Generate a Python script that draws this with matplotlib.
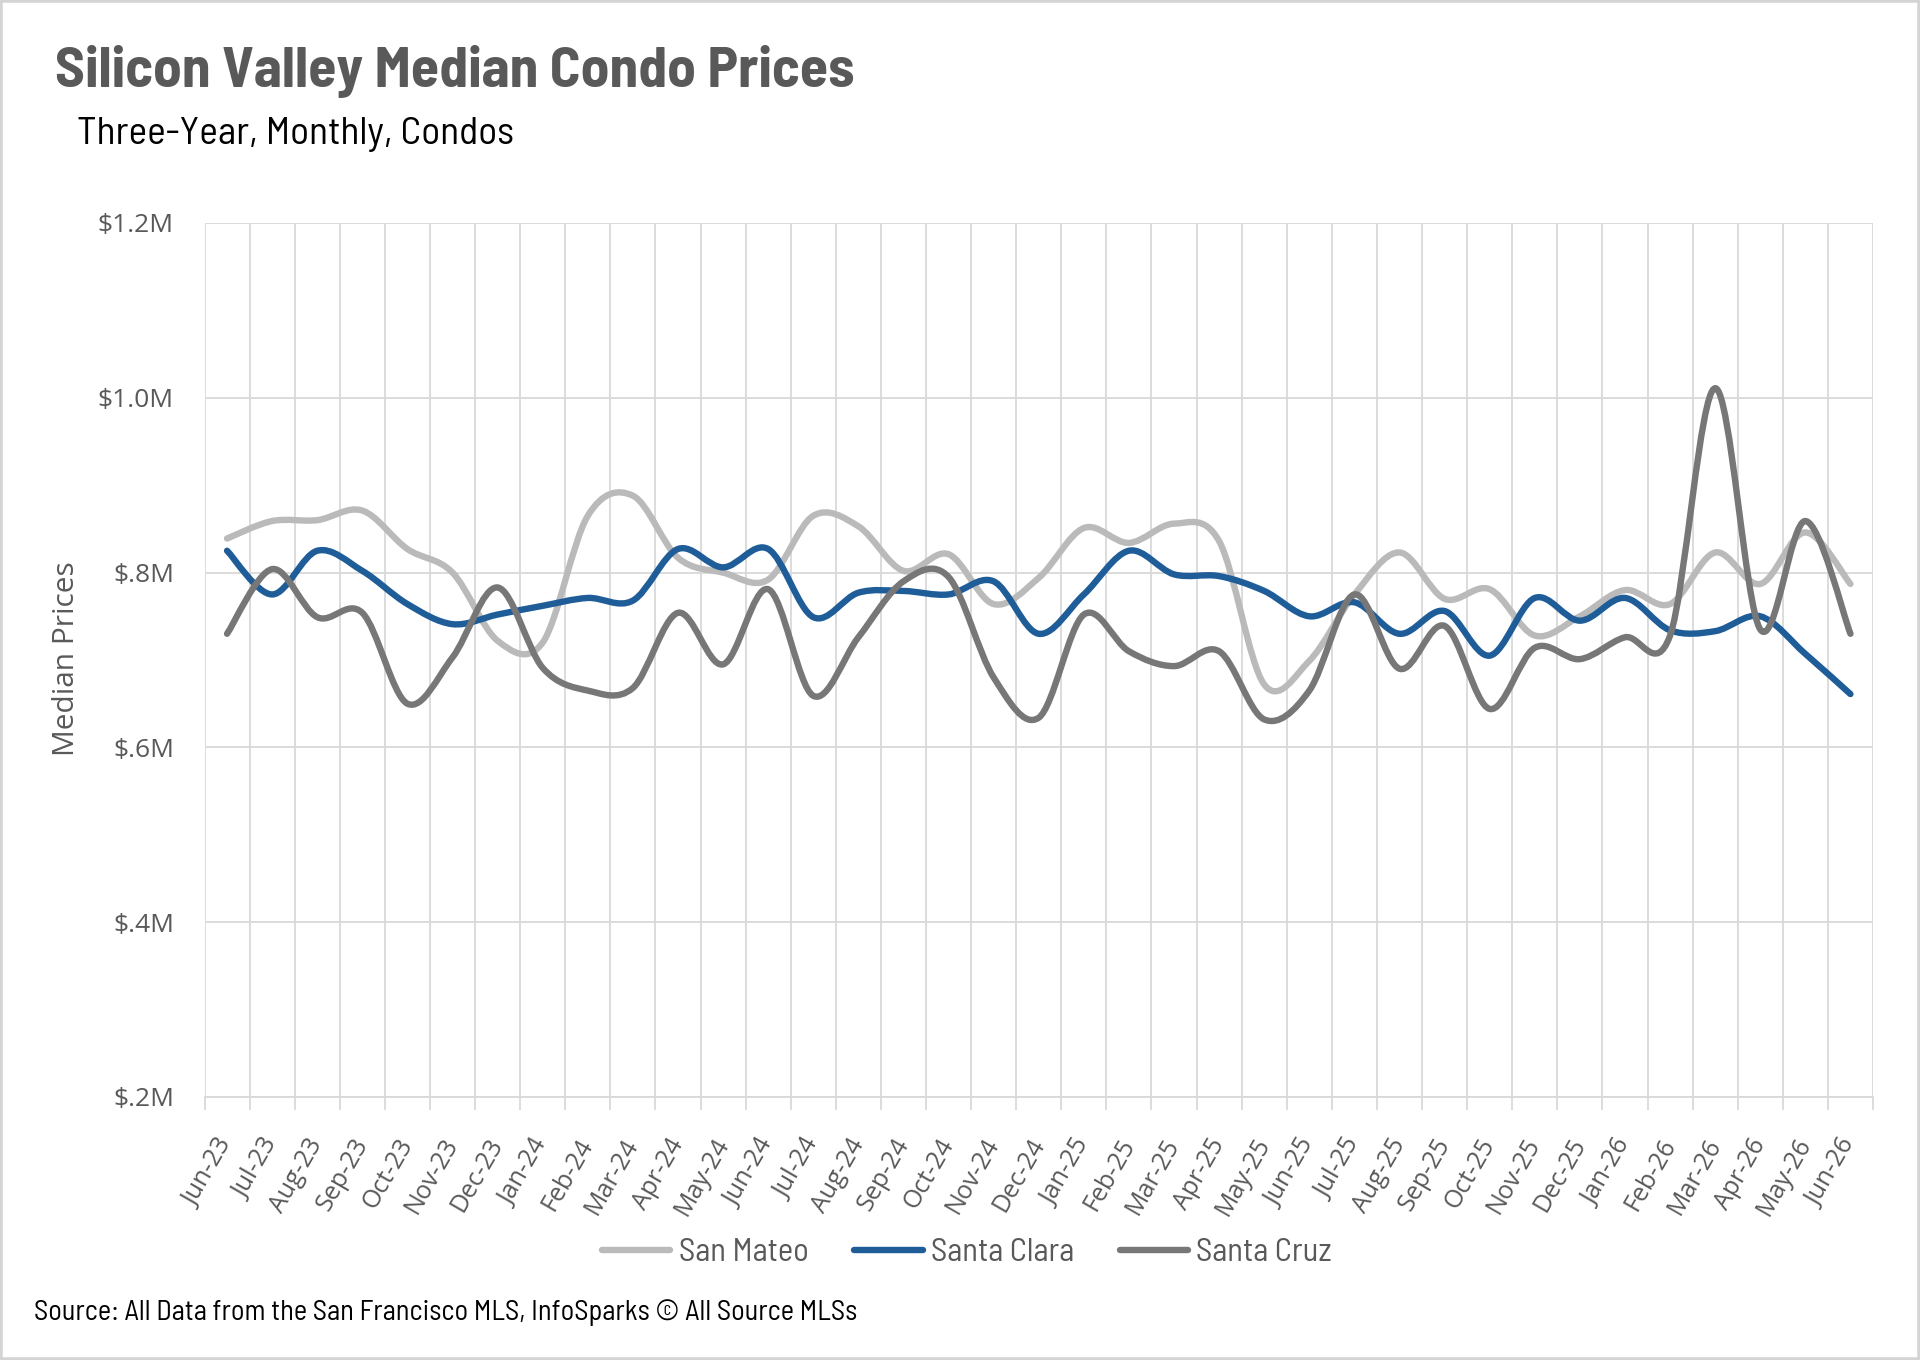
import numpy as np
import matplotlib
matplotlib.use("Agg")
import matplotlib.pyplot as plt
import matplotlib.transforms as mtrans
from matplotlib.path import Path
from matplotlib.patches import PathPatch, Rectangle
from matplotlib.lines import Line2D

# months Jun-23 .. Jun-26
months = ['Jun-23', 'Jul-23', 'Aug-23', 'Sep-23', 'Oct-23', 'Nov-23', 'Dec-23',
          'Jan-24', 'Feb-24', 'Mar-24', 'Apr-24', 'May-24', 'Jun-24', 'Jul-24',
          'Aug-24', 'Sep-24', 'Oct-24', 'Nov-24', 'Dec-24', 'Jan-25', 'Feb-25',
          'Mar-25', 'Apr-25', 'May-25', 'Jun-25', 'Jul-25', 'Aug-25', 'Sep-25',
          'Oct-25', 'Nov-25', 'Dec-25', 'Jan-26', 'Feb-26', 'Mar-26', 'Apr-26',
          'May-26', 'Jun-26']

# median prices, $M
san_mateo = [0.839, 0.859, 0.860, 0.871, 0.827, 0.800, 0.722, 0.720, 0.865, 0.888,
             0.817, 0.800, 0.792, 0.865, 0.853, 0.802, 0.821, 0.764, 0.794, 0.851,
             0.834, 0.856, 0.836, 0.672, 0.699, 0.775, 0.823, 0.770, 0.781, 0.728,
             0.750, 0.780, 0.764, 0.823, 0.787, 0.846, 0.787]
santa_clara = [0.825, 0.775, 0.825, 0.802, 0.764, 0.741, 0.752, 0.762, 0.771, 0.768,
               0.827, 0.806, 0.827, 0.749, 0.777, 0.779, 0.775, 0.790, 0.730, 0.775,
               0.825, 0.798, 0.796, 0.779, 0.750, 0.766, 0.730, 0.756, 0.705, 0.771,
               0.745, 0.771, 0.734, 0.733, 0.750, 0.707, 0.661]
santa_cruz = [0.730, 0.804, 0.749, 0.754, 0.650, 0.703, 0.783, 0.691, 0.665, 0.668,
              0.754, 0.695, 0.781, 0.659, 0.726, 0.790, 0.795, 0.680, 0.634, 0.752,
              0.710, 0.693, 0.710, 0.632, 0.665, 0.775, 0.690, 0.739, 0.644, 0.714,
              0.701, 0.726, 0.728, 1.011, 0.735, 0.859, 0.730]

series = [('San Mateo', san_mateo, '#BABABA'),
          ('Santa Clara', santa_clara, '#1F5D99'),
          ('Santa Cruz', santa_cruz, '#777777')]

yticks = [0.2, 0.4, 0.6, 0.8, 1.0, 1.2]
ytick_labels = ['$.2M', '$.4M', '$.6M', '$.8M', '$1.0M', '$1.2M']

narrow = ['Barlow Semi Condensed', 'DejaVu Sans']
wide = ['Open Sans', 'DejaVu Sans']
GREY = '#595959'
LW = 4.6


def smooth_path(y):
    # excel-style smoothed line: cubic bezier through every point
    n = len(y)
    verts = [(0, y[0])]
    codes = [Path.MOVETO]
    for i in range(n - 1):
        x0, x1 = i, i + 1
        xp = i - 1 if i > 0 else i
        yp = y[i - 1] if i > 0 else y[i]
        xn = i + 2 if i + 2 < n else i + 1
        yn = y[i + 2] if i + 2 < n else y[i + 1]
        c1 = (x0 + (x1 - xp) / 6, y[i] + (y[i + 1] - yp) / 6)
        c2 = (x1 - (xn - x0) / 6, y[i + 1] - (yn - y[i]) / 6)
        verts += [c1, c2, (x1, y[i + 1])]
        codes += [Path.CURVE4] * 3
    return Path(verts, codes)


fig = plt.figure(figsize=(19.2, 13.6), dpi=100)
ax = fig.add_axes([204.5 / 1920, 1 - 1097 / 1360, (1873 - 204.5) / 1920, (1097 - 223) / 1360])

for name, vals, col in series:
    ax.add_patch(PathPatch(smooth_path(vals), facecolor='none', edgecolor=col, lw=LW,
                           capstyle='round', joinstyle='round', zorder=3))

ax.set_xlim(-0.5, len(months) - 0.5)
ax.set_ylim(0.2, 1.2)
ax.set_yticks(yticks)
ax.set_yticklabels(ytick_labels, family=wide, fontsize=19, color=GREY)
ax.set_xticks(range(len(months)))
ax.set_xticklabels(months, rotation=60, ha='right', va='center', rotation_mode='anchor',
                   family=wide, fontsize=18, color=GREY)
shift = mtrans.ScaledTranslation(0.12, 0, fig.dpi_scale_trans)
for lab in ax.get_xticklabels():
    lab.set_transform(lab.get_transform() + shift)
ax.set_xticks(np.arange(-0.5, len(months), 1), minor=True)
ax.tick_params(axis='x', which='major', length=0, pad=31)
ax.tick_params(axis='x', which='minor', length=9, width=1.3, color='#D9D9D9')
ax.tick_params(axis='y', length=0, pad=22)
ax.grid(True, axis='y', color='#D9D9D9', lw=1.3)
ax.grid(True, axis='x', which='minor', color='#D9D9D9', lw=1.3)
ax.set_axisbelow(True)
for s in ['top', 'right', 'left']:
    ax.spines[s].set_visible(False)
ax.spines['bottom'].set_color('#D9D9D9')
ax.spines['bottom'].set_linewidth(1.3)

fig.text(66 / 1920, 1 - 659 / 1360, 'Median Prices', rotation=90, ha='center', va='center',
         family=wide, fontsize=21.5, color=GREY)

fig.text(55 / 1920, 1 - 71 / 1360, 'Silicon Valley Median Condo Prices', ha='left', va='center',
         family=narrow, fontsize=41.4, fontweight='bold', color=GREY)
fig.text(77 / 1920, 1 - 135 / 1360, 'Three-Year, Monthly, Condos', ha='left', va='center',
         family=narrow, fontsize=28.4, color='black')
fig.text(34 / 1920, 1 - 1313 / 1360,
         'Source: All Data from the San Francisco MLS, InfoSparks \u00a9 All Source MLSs',
         ha='left', va='center', family=narrow, fontsize=20.4, color='black')

handles = [Line2D([], [], color=c, lw=LW, solid_capstyle='round') for _, _, c in series]
fig.legend(handles, [n for n, _, _ in series], loc='center', ncol=3,
           bbox_to_anchor=(967 / 1920, 1 - 1253 / 1360), frameon=False,
           prop={'family': narrow, 'size': 23.5}, labelcolor=GREY,
           handlelength=2.1, handletextpad=0.25, columnspacing=1.4)

fig.add_artist(Rectangle((0, 0), 1, 1, transform=fig.transFigure, fill=False,
                         edgecolor='#D4D4D4', lw=4))

fig.savefig('out.png', dpi=100)
